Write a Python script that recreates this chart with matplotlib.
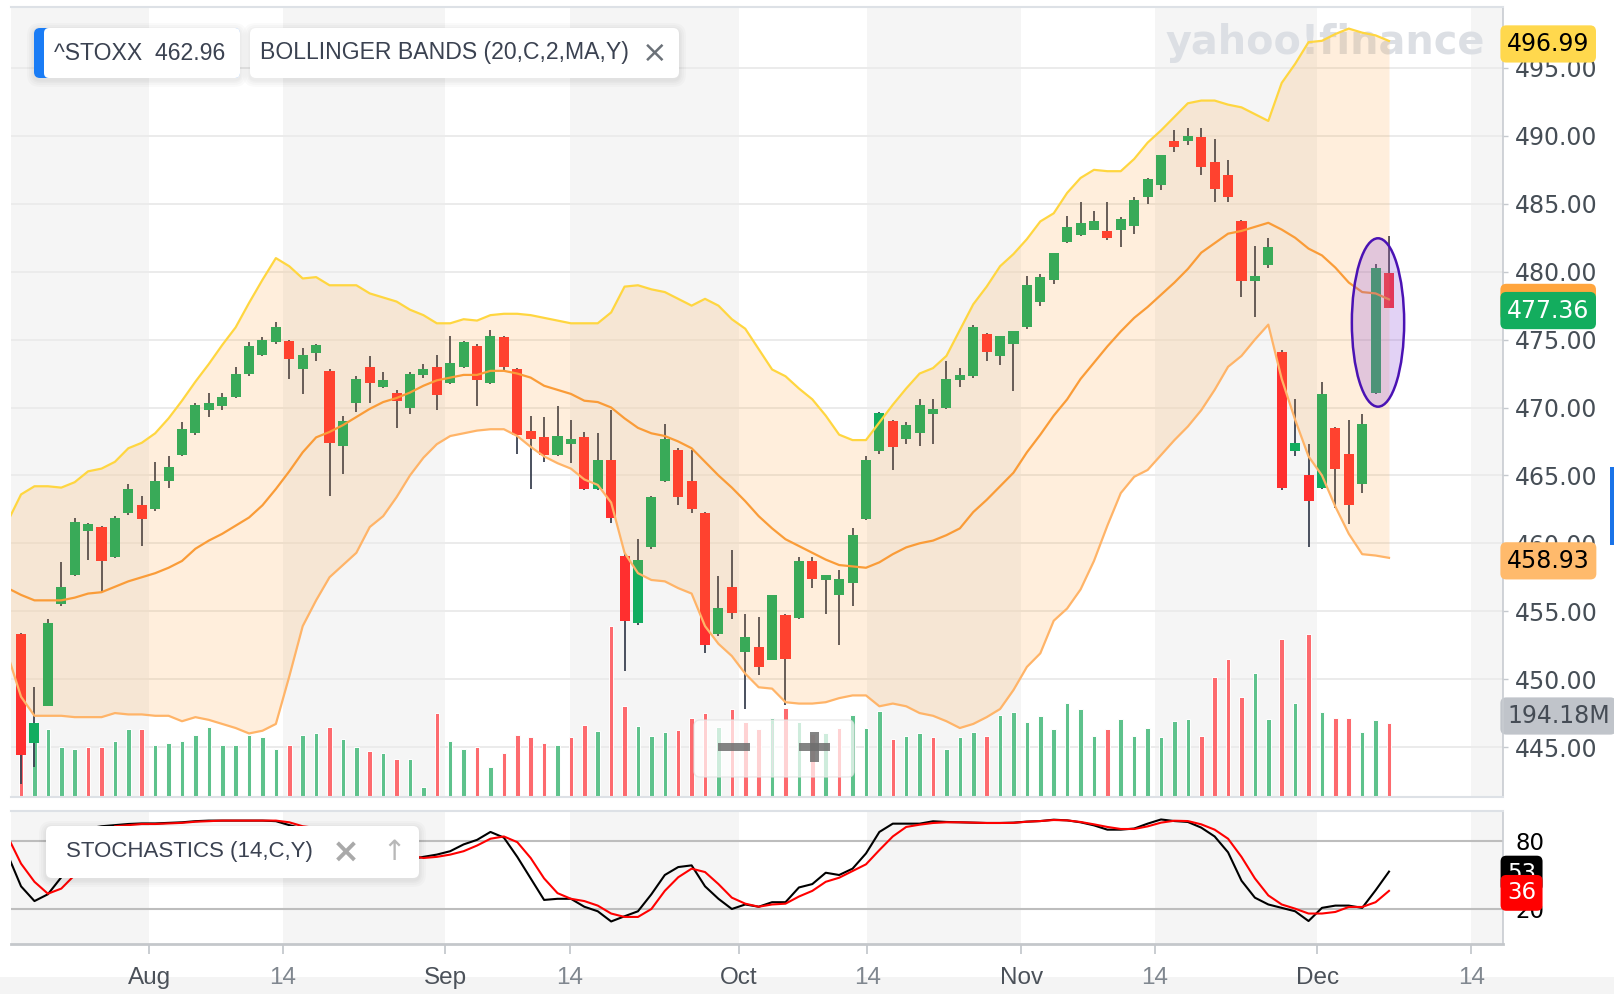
import numpy as np
import matplotlib
matplotlib.use("Agg")
import matplotlib.pyplot as plt
from matplotlib import transforms
from matplotlib.patches import FancyBboxPatch, Ellipse, Rectangle

# ----------------------------
# DATA (^STOXX daily, Jul 19 - Dec 8 2021)
# ----------------------------
OPEN = [453.3, 445.3, 448.0, 455.5, 457.7, 460.9, 461.2, 459.0, 462.2, 462.8,
        462.5, 464.6, 466.5, 468.1, 469.8, 470.1, 470.8, 472.5, 473.9, 474.8,
        474.9, 472.8, 474.0, 472.7, 467.2, 470.3, 473.0, 471.5, 471.1, 470.0,
        472.4, 473.0, 471.8, 473.0, 474.5, 471.8, 475.2, 472.8, 468.3, 467.8,
        466.5, 467.3, 467.8, 464.0, 466.1, 459.1, 454.1, 459.7, 464.6, 466.9,
        464.6, 462.2, 453.3, 456.8, 452.0, 452.4, 451.4, 454.7, 454.5, 458.7,
        457.3, 456.2, 457.1, 461.8, 466.8, 469.0, 467.7, 468.1, 469.5, 470.0,
        472.0, 472.3, 475.4, 473.8, 474.7, 475.9, 477.8, 479.4, 482.2, 482.7,
        483.1, 483.0, 483.1, 483.4, 485.5, 486.4, 489.6, 489.6, 489.9, 488.1,
        487.1, 483.7, 479.3, 480.5, 474.1, 466.8, 465.0, 464.1, 468.5, 466.6,
        464.4, 471.1, 479.9]
HIGH = [453.4, 449.4, 454.4, 458.6, 461.9, 461.5, 461.3, 462.0, 464.4, 463.5,
        466.0, 466.4, 468.9, 470.3, 471.1, 471.1, 473.0, 474.8, 475.2, 476.3,
        475.0, 474.4, 474.7, 472.8, 469.4, 472.3, 473.8, 472.6, 471.3, 472.6,
        473.2, 473.9, 475.3, 474.9, 474.7, 475.7, 475.3, 472.9, 469.4, 469.3,
        470.1, 469.1, 468.2, 468.1, 469.8, 459.2, 460.3, 463.5, 468.8, 467.0,
        466.9, 462.3, 457.6, 459.5, 454.8, 454.6, 456.2, 454.8, 459.0, 459.0,
        457.7, 458.0, 461.1, 466.4, 469.7, 469.1, 468.9, 470.6, 470.6, 473.4,
        472.9, 476.1, 475.5, 475.3, 475.6, 479.7, 479.8, 481.4, 484.1, 485.1,
        484.5, 485.1, 484.0, 485.5, 486.9, 488.6, 490.4, 490.6, 490.6, 489.8,
        488.2, 483.8, 481.9, 482.5, 474.2, 470.6, 467.3, 471.9, 468.6, 469.1,
        469.5, 480.6, 482.6]
LOW = [442.3, 443.5, 448.0, 455.4, 457.6, 458.8, 456.4, 458.9, 462.1, 459.8,
       462.4, 464.1, 466.4, 468.0, 469.3, 469.8, 470.7, 472.3, 473.8, 474.7,
       472.1, 471.0, 473.4, 463.5, 465.1, 469.7, 470.3, 471.4, 468.5, 469.5,
       472.2, 469.8, 471.7, 472.9, 470.1, 471.7, 472.7, 466.6, 464.0, 466.0,
       466.4, 465.9, 463.9, 463.9, 461.5, 450.6, 454.0, 459.6, 464.5, 462.8,
       462.2, 451.9, 453.2, 454.4, 447.8, 450.3, 451.4, 448.1, 454.4, 456.7,
       454.8, 452.5, 455.4, 461.7, 466.6, 465.4, 467.3, 467.2, 467.3, 469.9,
       471.5, 472.2, 473.4, 473.1, 471.2, 475.8, 477.5, 479.1, 482.1, 482.6,
       483.1, 482.3, 481.8, 482.8, 485.0, 486.0, 488.8, 489.3, 487.1, 485.1,
       485.1, 478.1, 476.7, 480.3, 463.9, 466.4, 459.7, 464.0, 462.6, 461.4,
       463.7, 471.0, 477.4]
CLOSE = [444.4, 446.8, 454.1, 456.8, 461.6, 461.4, 458.7, 461.9, 464.0, 461.8,
         464.6, 465.6, 468.4, 470.2, 470.3, 470.8, 472.5, 474.5, 475.0, 475.9,
         473.6, 473.9, 474.6, 467.4, 469.0, 472.1, 471.8, 472.0, 470.5, 472.5,
         472.8, 470.9, 473.3, 474.8, 472.0, 475.3, 473.0, 468.0, 467.7, 466.5,
         467.9, 467.7, 464.0, 466.1, 461.9, 454.3, 458.8, 463.4, 467.7, 463.4,
         462.5, 452.5, 455.2, 454.9, 453.1, 450.9, 456.2, 451.5, 458.7, 457.4,
         457.7, 457.4, 460.6, 466.1, 469.6, 467.1, 468.7, 470.2, 469.9, 472.1,
         472.4, 475.9, 474.1, 475.3, 475.6, 479.0, 479.6, 481.4, 483.3, 483.6,
         483.7, 482.5, 483.9, 485.3, 486.8, 488.6, 489.2, 490.0, 487.7, 486.1,
         485.5, 479.3, 479.7, 481.8, 464.1, 467.4, 463.1, 471.0, 465.5, 462.8,
         468.8, 480.3, 477.36]
VOLUME_M = [220, 197, 178, 131, 126, 131, 131, 147, 178, 178,
            136, 142, 147, 163, 184, 136, 136, 163, 157, 126,
            136, 163, 168, 184, 152, 131, 121, 115, 100, 100,
            26, 220, 147, 126, 131, 79, 115, 163, 157, 142,
            136, 157, 189, 173, 449, 239, 186, 160, 171, 176,
            207, 220, 184, 231, 197, 178, 207, 234, 197, 165,
            168, 181, 215, 181, 226, 152, 160, 168, 157, 126,
            157, 171, 160, 215, 223, 197, 213, 178, 247, 231,
            160, 178, 205, 160, 181, 157, 199, 205, 160, 315,
            362, 262, 325, 205, 415, 247, 428, 223, 207, 207,
            171, 202, 194.18]

# Bollinger bands (20,2) and stochastics, starting one session before the first candle
UPPER = [461.6,
         463.6, 464.2, 464.2, 464.1, 464.5, 465.3, 465.5, 466.0, 467.0, 467.4,
         468.1, 469.2, 470.5, 471.9, 473.2, 474.6, 475.9, 477.7, 479.4, 481.0,
         480.4, 479.5, 479.6, 479.0, 479.0, 479.0, 478.4, 478.1, 477.8, 477.2,
         476.8, 476.2, 476.2, 476.5, 476.4, 476.8, 476.9, 476.9, 476.8, 476.6,
         476.4, 476.2, 476.2, 476.2, 477.0, 478.9, 479.0, 478.7, 478.5, 478.0,
         477.5, 478.0, 477.5, 476.5, 475.8, 474.3, 472.8, 472.3, 471.4, 470.6,
         469.4, 468.0, 467.6, 467.6, 468.9, 470.2, 471.4, 472.5, 472.9, 473.8,
         475.7, 477.6, 478.9, 480.4, 481.3, 482.4, 483.7, 484.3, 485.8, 486.9,
         487.5, 487.4, 487.4, 488.3, 489.5, 490.4, 491.4, 492.4, 492.6, 492.6,
         492.3, 492.1, 491.6, 491.1, 493.9, 495.3, 496.9, 497.0, 497.5, 497.9,
         497.6, 497.4, 496.99]
MIDDLE = [456.7,
          456.2, 455.8, 455.8, 455.8, 456.0, 456.3, 456.4, 456.8, 457.2, 457.5,
          457.8, 458.2, 458.7, 459.6, 460.2, 460.7, 461.3, 461.9, 462.8, 464.0,
          465.3, 466.7, 467.8, 468.2, 468.7, 469.3, 469.9, 470.4, 470.7, 471.1,
          471.6, 472.0, 472.2, 472.4, 472.4, 472.7, 472.7, 472.5, 472.2, 471.6,
          471.3, 471.0, 470.5, 470.4, 470.0, 469.2, 468.5, 468.1, 467.9, 467.5,
          467.0, 466.0, 465.0, 464.1, 463.1, 462.0, 461.1, 460.3, 459.8, 459.3,
          458.8, 458.4, 458.3, 458.2, 458.6, 459.2, 459.7, 460.0, 460.2, 460.6,
          461.1, 462.3, 463.2, 464.2, 465.2, 466.7, 468.0, 469.4, 470.6, 472.1,
          473.3, 474.5, 475.6, 476.6, 477.4, 478.3, 479.2, 480.2, 481.4, 482.1,
          482.8, 483.0, 483.3, 483.6, 483.1, 482.5, 481.7, 481.2, 480.3, 479.2,
          478.5, 478.4, 477.96]
LOWER = [451.8,
         448.7, 447.3, 447.3, 447.3, 447.2, 447.2, 447.2, 447.5, 447.4, 447.4,
         447.3, 447.3, 446.9, 447.2, 447.0, 446.7, 446.4, 446.0, 446.2, 446.7,
         450.2, 453.9, 455.8, 457.5, 458.4, 459.3, 461.2, 462.0, 463.4, 465.0,
         466.3, 467.3, 467.9, 468.1, 468.3, 468.4, 468.4, 467.9, 467.1, 466.4,
         465.9, 465.5, 464.7, 464.3, 463.0, 459.3, 457.8, 457.3, 457.2, 456.7,
         456.3, 453.9, 452.6, 451.7, 450.4, 449.4, 449.3, 448.3, 448.2, 448.2,
         448.3, 448.6, 448.8, 448.8, 448.0, 448.2, 448.0, 447.5, 447.3, 446.9,
         446.4, 446.7, 447.2, 447.8, 449.2, 450.9, 451.9, 454.3, 455.2, 456.6,
         458.7, 461.3, 463.7, 464.9, 465.4, 466.5, 467.6, 468.6, 469.8, 471.3,
         473.0, 473.8, 475.0, 476.1, 472.1, 469.1, 466.4, 465.0, 462.7, 460.7,
         459.2, 459.1, 458.93]
STOCH_K = [68,
           40, 27, 33, 48, 72, 91, 93, 94, 95, 95.5,
           95.5, 96, 96.5, 97.5, 98, 98, 98, 98, 98, 97.5,
           94, 91, 90, 70, 72, 78, 72, 70, 66, 64,
           66, 68, 71, 77, 81, 88, 83, 66, 47, 28,
           29, 29, 22, 18, 9, 13.6, 18, 33, 50, 57,
           58.5, 40, 29, 20, 24, 22, 26, 26, 39, 42,
           52, 50, 55.6, 69, 88, 95.3, 95.3, 95.3, 97.4, 96.8,
           96.5, 96.2, 95.9, 95.9, 96.2, 97.1, 97.6, 98.8, 98.2, 96.5,
           93.8, 90, 90, 91, 95.3, 99, 97.6, 96.8, 91.8, 84,
           70, 45, 30, 24, 21, 18, 9.4, 21, 23, 23,
           21, 36.5, 53]
STOCH_D = [84,
           60, 44, 33.5, 38, 50, 70, 85, 93, 94, 95,
           95, 95.5, 96, 97, 97.5, 98, 98, 98, 98, 98,
           96.5, 93, 91.5, 84, 77, 73, 74, 73, 70, 67,
           65, 66, 68, 71, 76, 82, 84, 79, 65, 47,
           34, 29, 27, 23, 16, 13, 13, 20, 36, 48,
           55.6, 52.6, 42, 30, 24.7, 22, 24, 24.7, 31, 36,
           44, 47.6, 53.5, 59.4, 72, 84, 92.4, 94.4, 95.9, 96.5,
           96.5, 96.2, 95.9, 95.9, 96, 97, 97.6, 98.5, 98.2, 96.8,
           94.7, 92.4, 90.6, 90.6, 92.9, 96.2, 97.9, 97.6, 94.7, 90,
           82, 66, 47, 32, 24, 20.3, 16, 16, 17.4, 21.8,
           21.8, 26, 36]

TICK_LABELS = ["Aug", "14", "Sep", "14", "Oct", "14", "Nov", "14", "Dec", "14"]
TICK_POS = [9.55, 19.54, 31.62, 40.94, 53.5, 63.09, 74.57, 84.56, 96.64, 108.13]
PRICE_TICKS = [445, 450, 455, 460, 465, 470, 475, 480, 485, 490, 495]

# ----------------------------
# FIGURE / AXES
# ----------------------------
W, H = 1614, 994
fig = plt.figure(figsize=(W / 100, H / 100), dpi=100)
px = transforms.Affine2D().scale(1 / W, 1 / H) + fig.transFigure   # pixel coords from bottom-left

SANS = ["Liberation Sans", "DejaVu Sans"]
NUM = ["DejaVu Sans"]

ax = fig.add_axes([11 / W, 1 - 797 / H, 1492 / W, 790 / H])
ax_v = ax.twinx()
ax.set_zorder(2)
ax_v.set_zorder(1)
ax.patch.set_visible(False)
sax = fig.add_axes([11 / W, 1 - 944 / H, 1492 / W, 133 / H])

x = np.arange(len(CLOSE))
xb = np.arange(-1, len(CLOSE))
o, h, l, c = map(np.array, (OPEN, HIGH, LOW, CLOSE))
XLIM = (-0.75, 110.5)

for a in (ax, ax_v, sax):
    a.set_xlim(*XLIM)

# alternating half-month shading
edges = [XLIM[0]] + TICK_POS + [XLIM[1]]
for k in range(0, len(edges) - 1, 2):
    for a in (ax_v, sax):
        a.axvspan(edges[k], edges[k + 1], color="#f5f5f5", lw=0, zorder=0)

# price grid (drawn under the volume bars)
grid_tr = transforms.blended_transform_factory(ax_v.transAxes, ax.transData)
for p in PRICE_TICKS:
    ax_v.plot([0, 1], [p, p], transform=grid_tr, color="#ebebeb", lw=1.4, zorder=0.5)

# watermark
ax_v.text(1166, H - 54, "yahoo!finance", transform=px, fontsize=28.6, fontweight="bold",
          family=NUM, color="#dcdfe4", ha="left", va="baseline", zorder=0.8)

# ----------------------------
# VOLUME
# ----------------------------
chg_up = np.r_[False, c[1:] >= c[:-1]]
vcol = np.where(chg_up, "#5ec28c", "#fd6a6e")
ax_v.bar(x, VOLUME_M, width=0.34, color=vcol, edgecolor="white", linewidth=0.7, zorder=2)
ax_v.set_ylim(0, 790 * 194.18 / 74)
ax_v.yaxis.set_visible(False)
ax_v.tick_params(bottom=False, labelbottom=False)

# ----------------------------
# CANDLES + BOLLINGER
# ----------------------------
ccol = np.where(c >= o, "#12ad60", "#ff2f2f")
ax.vlines(x, l, h, color="#3b4252", lw=1.3, zorder=2)
ax.bar(x, np.maximum(np.abs(c - o), 0.1), bottom=np.minimum(o, c), width=0.75,
       color=ccol, lw=0, zorder=2.5)

ax.fill_between(xb, LOWER, UPPER, color="#ffa033", alpha=0.17, lw=0, zorder=3)
ax.plot(xb, UPPER, color="#ffd640", lw=1.6, zorder=4)
ax.plot(xb, MIDDLE, color="#fa9c38", lw=1.6, zorder=4)
ax.plot(xb, LOWER, color="#ffb468", lw=1.6, zorder=4)

ax.add_patch(Ellipse((101.18, 476.26), 3.9, 12.4, fc=(0.55, 0.31, 0.86, 0.25),
                     ec="#4a12b4", lw=1.8, zorder=5))

ax.set_ylim(441.32, 499.49)
ax.yaxis.tick_right()
ax.set_yticks(PRICE_TICKS)
ax.set_yticklabels([f"{p:.2f}" for p in PRICE_TICKS], family=NUM)
ax.tick_params(axis="y", length=3.6, width=1, color="#c5c9ce", labelsize=17,
               labelcolor="#464e56", pad=5)
ax.tick_params(axis="x", bottom=False, labelbottom=False)
for name, sp in ax.spines.items():
    sp.set_visible(name in ("right", "top", "bottom"))
ax.spines["right"].set_color("#c8ccd1")
ax.spines["right"].set_linewidth(1.2)
ax.spines["top"].set_color("#dde1e6")
ax.spines["bottom"].set_color("#dde1e6")
ax.spines["top"].set_linewidth(1.5)
ax.spines["bottom"].set_linewidth(1.5)
for sp in ax_v.spines.values():
    sp.set_visible(False)

# ----------------------------
# STOCHASTICS
# ----------------------------
sax.set_ylim(-10.88, 106.47)
sax.axhline(80, color="#bdbdbd", lw=1.5, zorder=1)
sax.axhline(20, color="#bdbdbd", lw=1.5, zorder=1)
sax.plot(xb, STOCH_K, color="black", lw=1.5, zorder=3)
sax.plot(xb, STOCH_D, color="#ff0000", lw=1.5, zorder=3)
sax.yaxis.tick_right()
sax.set_yticks([20, 80])
sax.set_yticklabels(["20", "80"], family=NUM)
sax.tick_params(axis="y", length=0, labelsize=16.5, labelcolor="black", pad=9)
sax.set_xticks(TICK_POS)
sax.set_xticklabels(TICK_LABELS, family=SANS)
sax.tick_params(axis="x", length=7.5, width=1.3, color="#c5c9ce", labelsize=17.5, pad=9)
for lab, txt in zip(sax.get_xticklabels(), TICK_LABELS):
    lab.set_color("#80878f" if txt == "14" else "#4b5159")
sax.spines["left"].set_visible(False)
sax.spines["top"].set_color("#dde1e6")
sax.spines["top"].set_linewidth(1.5)
sax.spines["bottom"].set_color("#c4c7cb")
sax.spines["bottom"].set_linewidth(2)
sax.spines["right"].set_color("#c8ccd1")
sax.spines["right"].set_linewidth(1.2)

# ----------------------------
# VALUE TAGS ON THE RIGHT
# ----------------------------
def tag(axis, val, text, fc, tc, size=17, dy=-3):
    tr = transforms.blended_transform_factory(px, axis.transData)
    tr = tr + transforms.ScaledTranslation(0, dy / 100, fig.dpi_scale_trans)
    axis.text(1507, val, text, transform=tr, ha="left", va="center", fontsize=size,
              family=NUM, color=tc, zorder=20, clip_on=False,
              bbox=dict(boxstyle="round,pad=0.28,rounding_size=0.25", fc=fc, ec="none"))

tag(ax, UPPER[-1], f"{UPPER[-1]:.2f}", "#ffd84d", "black")
# middle-band tag sits behind the close tag, only its top edge shows
tag(ax, MIDDLE[-1], f"{MIDDLE[-1]:.2f}", "#ffa53d", "#ffa53d")
tag(ax, CLOSE[-1], f"{CLOSE[-1]:.2f}", "#13ad5e", "white")
tag(ax, LOWER[-1], f"{LOWER[-1]:.2f}", "#ffba6c", "black")
tag(ax_v, VOLUME_M[-1], f"{VOLUME_M[-1]:.2f}M", "#c0c4ca", "#454c55", dy=7)
tag(sax, STOCH_K[-1], f"{STOCH_K[-1]:.0f}", "black", "white", size=16.5, dy=-2)
tag(sax, STOCH_D[-1], f"{STOCH_D[-1]:.0f}", "#ff0000", "white", size=16.5, dy=-2)

fig.add_artist(Rectangle((1610, H - 545), 4, 78, transform=px, fc="#1a73e8", ec="none", zorder=30))

# ----------------------------
# LEGEND BOXES / CONTROLS
# ----------------------------
def rbox(x0, y0, x1, y1, fc, r=6, z=10, alpha=1.0, ec="none", lw=0):
    fig.add_artist(FancyBboxPatch((x0, H - y1), x1 - x0, y1 - y0,
                                  boxstyle=f"round,pad=0,rounding_size={r}", transform=px,
                                  fc=fc, ec=ec, lw=lw, alpha=alpha, zorder=z))

def shadowed(x0, y0, x1, y1):
    for g in (7, 5, 3, 1.5):
        rbox(x0 - g, y0 - g + 2, x1 + g, y1 + g + 2, "#000000", r=6 + g, z=9, alpha=0.018)

shadowed(34, 28, 240, 78)
rbox(34, 28, 240, 78, "#1a7cf5")
rbox(44, 28, 240, 78, "white", r=5)
fig.text(54.5, H - 53, "^STOXX  462.96", transform=px, fontsize=16.6, family=SANS,
         color="#3b4251", ha="left", va="center", zorder=11)

shadowed(250, 28, 679, 78)
rbox(250, 28, 679, 78, "white")
fig.text(260, H - 53, "BOLLINGER BANDS (20,C,2,MA,Y)", transform=px, fontsize=16.6,
         family=SANS, color="#3b4251", ha="left", va="center", zorder=11)
fig.text(655, H - 53, "\u00d7", transform=px, fontsize=22, family=NUM,
         color="#6b7178", ha="center", va="center", zorder=11)

shadowed(46, 826, 419, 878)
rbox(46, 826, 419, 878, "white")
fig.text(66, H - 852, "STOCHASTICS (14,C,Y)", transform=px, fontsize=16, family=SANS,
         color="#3b4251", ha="left", va="center", zorder=11)
fig.text(346, H - 852, "\u00d7", transform=px, fontsize=24, family=NUM, fontweight="bold",
         color="#a9a9a9", ha="center", va="center", zorder=11)
fig.text(394, H - 852, "\u2191", transform=px, fontsize=20, family=NUM,
         color="#b8b8b8", ha="center", va="center", zorder=11)

# zoom control
rbox(694, 720, 854, 777, "white", r=6, alpha=0.7, ec="#e2e2e2", lw=1)
fig.add_artist(Rectangle((771.5, H - 773), 1.2, 49, transform=px, fc="#e2e2e2", ec="none", zorder=11))
for (rx, ry, rw, rh) in [(718, 743, 32, 7.5), (799, 743, 31, 7.5), (810, 732, 8.5, 30)]:
    fig.add_artist(Rectangle((rx, H - ry - rh), rw, rh, transform=px, fc="#6e6e6e",
                             ec="none", alpha=0.85, zorder=12))

# bottom strip
fig.add_artist(Rectangle((0, 0), W, H - 977, transform=px, fc="#f4f4f4", ec="none", zorder=-1))

fig.savefig("out.png", dpi=100)
